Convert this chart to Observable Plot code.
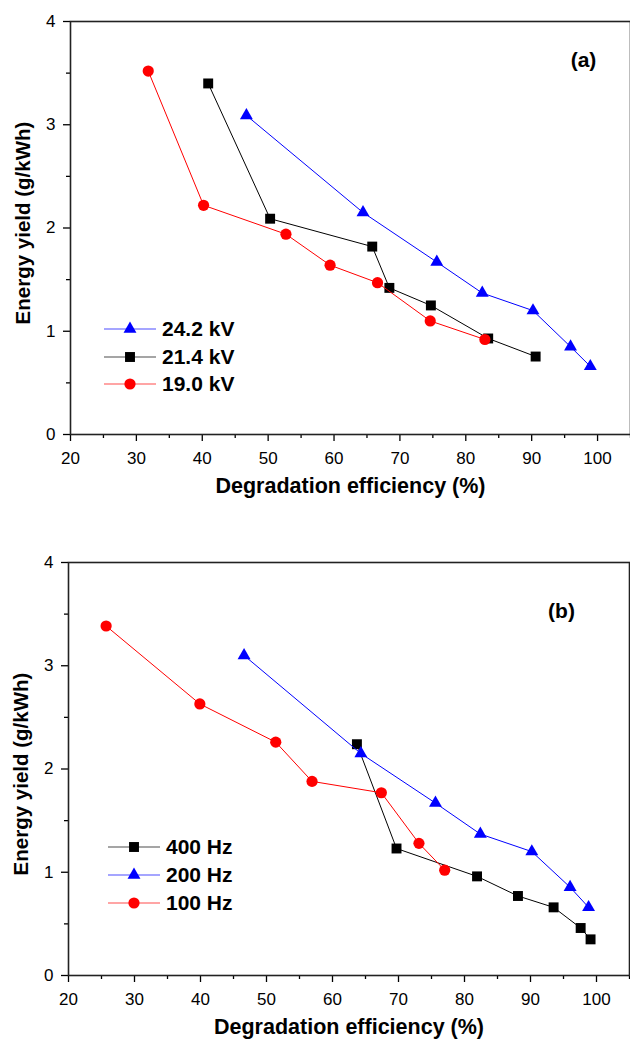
<!DOCTYPE html>
<html>
<head>
<meta charset="utf-8">
<script src="https://cdn.jsdelivr.net/npm/d3@7"></script>
<script src="https://cdn.jsdelivr.net/npm/@observablehq/plot@0.6"></script>
<style>
  html, body { margin: 0; padding: 0; background: #fff; }
  #wrap { position: relative; width: 630px; height: 1044px; font-family: "Liberation Sans", Arial, sans-serif; }
  #wrap svg { display: block; }
  .leg { position: absolute; display: flex; align-items: center; height: 26px; font-weight: bold; font-size: 21px; color: #000; white-space: nowrap; }
  .leg svg { margin-right: 6px; }
</style>
</head>
<body>
<div id="wrap"></div>
<script>
// ---------- Data: panel (a) — applied voltage ----------
const voltLabels = ["24.2 kV", "21.4 kV", "19.0 kV"];
const x24 = [46.7, 64.4, 75.6, 82.5, 90.2, 95.9, 98.9];
const y24 = [3.09, 2.15, 1.67, 1.37, 1.20, 0.85, 0.66];
const x21 = [40.9, 50.3, 65.8, 68.4, 74.7, 83.4, 90.6];
const y21 = [3.40, 2.09, 1.82, 1.42, 1.25, 0.93, 0.755];
const x19 = [31.8, 40.2, 52.7, 59.4, 66.6, 74.6, 82.9];
const y19 = [3.52, 2.22, 1.94, 1.64, 1.47, 1.10, 0.92];

// ---------- Data: panel (b) — frequency ----------
const freqLabels = ["400 Hz", "200 Hz", "100 Hz"];
const x400 = [63.7, 69.7, 81.9, 88.1, 93.5, 97.6, 99.1];
const y400 = [2.24, 1.23, 0.96, 0.77, 0.66, 0.46, 0.35];
const x200 = [46.6, 64.3, 75.6, 82.4, 90.2, 96.0, 98.8];
const y200 = [3.10, 2.15, 1.67, 1.37, 1.20, 0.855, 0.66];
const x100 = [25.7, 39.9, 51.4, 56.9, 67.4, 73.1, 77.0];
const y100 = [3.385, 2.63, 2.26, 1.88, 1.77, 1.28, 1.02];

// ---------- Axis ticks / labels ----------
const xMajor = [20, 30, 40, 50, 60, 70, 80, 90, 100];
const xMinor = [25, 35, 45, 55, 65, 75, 85, 95, 105];
const yMajor = [0, 1, 2, 3, 4];
const yMinor = [0.5, 1.5, 2.5, 3.5];
const xTitle = "Degradation efficiency (%)";
const yTitle = "Energy yield (g/kWh)";

const zip = (xs, ys) => xs.map((x, i) => ({x, y: ys[i]}));

const styles = {
  square:   {symbol: "square",   r: 5.6, color: "#000000"},
  triangle: {symbol: "triangle", r: 4.8, color: "#0000ff"},
  circle:   {symbol: "circle",   r: 5.6, color: "#ff0000"}
};

function series(data, st) {
  return [
    Plot.line(data, {x: "x", y: "y", stroke: st.color, strokeWidth: 1}),
    Plot.dot(data, {x: "x", y: "y", symbol: () => st.symbol, r: st.r, fill: st.color, stroke: "none"})
  ];
}

function panel({series: ser, tag, marginTop, marginBottom, marginLeft, marginRight, tagDx, tagDy, yTitleDy}) {
  return Plot.plot({
    width: 630,
    height: 522,
    marginTop, marginBottom, marginLeft, marginRight,
    style: {fontFamily: "Liberation Sans, Arial, sans-serif", fontSize: "17px", background: "white", color: "#000", overflow: "visible"},
    x: {domain: [20, 105]},
    y: {domain: [0, 4]},
    symbol: {domain: ["square", "triangle", "circle"], range: ["square", "triangle", "circle"]},
    marks: [
      Plot.axisX(xMinor, {tickSize: 4, text: null, label: null, strokeWidth: 1.3}),
      Plot.axisX(xMajor, {tickSize: 7, tickPadding: 10, label: null, strokeWidth: 1.3, fontSize: 17, tickFormat: d => String(d)}),
      Plot.axisY(yMinor, {tickSize: 4, text: null, label: null, strokeWidth: 1.3}),
      Plot.axisY(yMajor, {tickSize: 7, tickPadding: 8, label: null, strokeWidth: 1.3, fontSize: 17, tickFormat: d => String(d)}),
      ...ser.flatMap(([d, st]) => series(d, st)),
      Plot.frame({stroke: "#222", strokeWidth: 1.6}),
      Plot.text([xTitle], {frameAnchor: "bottom", dy: 58, fontWeight: "bold", fontSize: 21.5, text: d => d}),
      Plot.text([yTitle], {frameAnchor: "left", dx: -47, dy: yTitleDy, rotate: -90, textAnchor: "middle", fontWeight: "bold", fontSize: 20.5, text: d => d}),
      Plot.text([tag], {frameAnchor: "top-right", dx: tagDx, dy: tagDy, textAnchor: "middle", fontWeight: "bold", fontSize: 21, text: d => d})
    ]
  });
}

const wrap = document.getElementById("wrap");

wrap.appendChild(panel({
  series: [[zip(x24, y24), styles.triangle], [zip(x21, y21), styles.square], [zip(x19, y19), styles.circle]],
  tag: "(a)", marginTop: 21, marginBottom: 88, marginLeft: 70, marginRight: 0, tagDx: -47, tagDy: 31, yTitleDy: -5
}));
wrap.appendChild(panel({
  series: [[zip(x400, y400), styles.square], [zip(x200, y200), styles.triangle], [zip(x100, y100), styles.circle]],
  tag: "(b)", marginTop: 40, marginBottom: 69, marginLeft: 68, marginRight: 1, tagDx: -68, tagDy: 41, yTitleDy: 5
}));

// ---------- Legends (HTML overlay) ----------
function swatch(st) {
  const ns = "http://www.w3.org/2000/svg";
  const s = document.createElementNS(ns, "svg");
  s.setAttribute("width", 52); s.setAttribute("height", 20);
  const ln = document.createElementNS(ns, "line");
  ln.setAttribute("x1", 0); ln.setAttribute("x2", 52); ln.setAttribute("y1", 10); ln.setAttribute("y2", 10);
  ln.setAttribute("stroke", st.color); ln.setAttribute("stroke-opacity", 0.7); ln.setAttribute("stroke-width", 1.2);
  s.appendChild(ln);
  const sym = document.createElementNS(ns, "path");
  const sz = Math.PI * st.r * st.r;
  const gen = {square: d3.symbolSquare, triangle: d3.symbolTriangle, circle: d3.symbolCircle}[st.symbol];
  sym.setAttribute("d", d3.symbol(gen, sz)());
  sym.setAttribute("transform", "translate(26,10)");
  sym.setAttribute("fill", st.color);
  s.appendChild(sym);
  return s;
}
function legend(items, left, tops) {
  items.forEach(([label, st], i) => {
    const row = document.createElement("div");
    row.className = "leg";
    row.style.left = left + "px";
    row.style.top = tops[i] + "px";
    row.appendChild(swatch(st));
    const t = document.createElement("span");
    t.textContent = label;
    row.appendChild(t);
    wrap.appendChild(row);
  });
}
legend([[voltLabels[0], styles.triangle], [voltLabels[1], styles.square], [voltLabels[2], styles.circle]], 104, [316, 344, 371]);
legend([[freqLabels[0], styles.square], [freqLabels[1], styles.triangle], [freqLabels[2], styles.circle]], 108, [834, 862, 890]);
</script>
</body>
</html>
